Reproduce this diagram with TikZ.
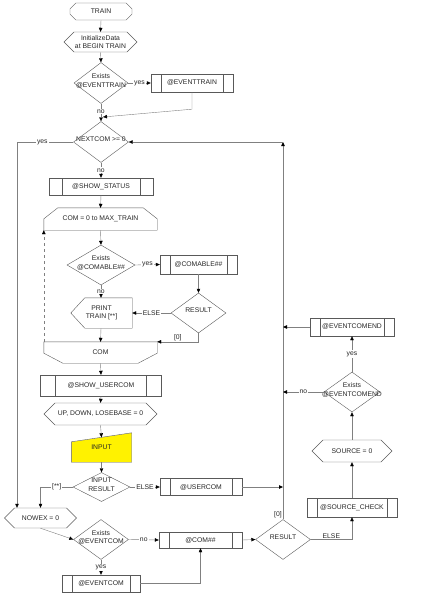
\documentclass[tikz,border=0pt]{standalone}
\usepackage{fontspec}
\setmainfont{Liberation Sans}
\usetikzlibrary{shapes.geometric,shapes.misc,shapes.symbols,arrows.meta}

\definecolor{bordo}{gray}{0.35}
\definecolor{linea}{gray}{0.5}
\definecolor{testo}{gray}{0.15}

% testo centrato che non allarga il rombo
\newcommand{\ctext}[1]{\makebox[0pt]{\smash{\begin{tabular}{@{}c@{}}#1\end{tabular}}}}

\tikzset{
  scritta/.style={text=testo, font=\fontsize{6.8}{8.5}\selectfont, inner sep=0pt, align=center},
  base/.style={scritta, draw=bordo},
  terminale/.style={base, chamfered rectangle, chamfered rectangle xsep=4pt},
  preparazione/.style={base, signal, signal to=east and west, signal pointer angle=90},
  decisione/.style={base, diamond},
  processo/.style={base, rectangle, path picture={
      \draw[bordo] ([xshift=#1]path picture bounding box.north west) -- ([xshift=#1]path picture bounding box.south west)
                   ([xshift=-#1]path picture bounding box.north east) -- ([xshift=-#1]path picture bounding box.south east);}},
  processo/.default=10pt,
  ciclo/.style={scritta, rectangle},
  inserimento/.style={scritta, rectangle, path picture={
      \fill[yellow] ([yshift=-9pt]path picture bounding box.north west) -- (path picture bounding box.north east)
                    -- (path picture bounding box.south east) -- (path picture bounding box.south west) -- cycle;}},
  freccia/.style={draw=linea, -{Triangle[black, length=4pt, width=3.5pt]}},
  etichetta/.style={scritta, fill=white, inner sep=1pt}
}

\begin{document}
\begin{tikzpicture}[x=1pt, y=-1pt]
    \useasboundingbox (0,0) rectangle (424,600);

    % Inizio
    \node[terminale, minimum width=62, minimum height=17] (train) at (101,11.5) {TRAIN};
    \node[preparazione, minimum width=73, minimum height=20] (init) at (100.5,42) {InitializeData\\at BEGIN TRAIN};
    \node[decisione, minimum width=54, minimum height=41] (exTrain) at (101,83) {\ctext{Exists\\@EVENTTRAIN}};
    \node[processo, minimum width=82, minimum height=18] (evTrain) at (192,83) {@EVENTTRAIN};
    \coordinate (mergeTrain) at (103,117);

    % Ciclo sui comandi
    \node[decisione, minimum width=55, minimum height=41] (nextCom) at (101,142) {\ctext{NEXTCOM >= 0}};
    \node[processo=13pt, minimum width=104, minimum height=17] (showStatus) at (101,186.5) {@SHOW\_STATUS};
    \node[ciclo, minimum width=113, minimum height=22] (comLoop) at (100.5,219) {COM = 0 to MAX\_TRAIN};
    \node[decisione, minimum width=68, minimum height=40] (exComable) at (101,265) {\ctext{Exists\\@COMABLE\#\#}};
    \node[processo, minimum width=77, minimum height=19] (comable) at (198.5,264.5) {@COMABLE\#\#};
    \node[decisione, minimum width=55, minimum height=40] (result1) at (198.5,313) {\ctext{RESULT}};
    \node[ciclo, minimum width=61, minimum height=30] (print) at (101.5,313) {PRINT\\TRAIN [**]};
    \node[ciclo, minimum width=113, minimum height=21] (comEnd) at (100.5,352.5) {COM};

    % Contorni dei cicli e della stampa
    \draw[bordo] ([yshift=-11pt]comLoop.north west) -- ([xshift=14pt]comLoop.north west) -- ([xshift=-14pt]comLoop.north east)
        -- ([yshift=-11pt]comLoop.north east) -- (comLoop.south east) -- (comLoop.south west) -- cycle;
    \draw[bordo] (comEnd.north west) -- (comEnd.north east) -- ([yshift=10pt]comEnd.south east) -- ([xshift=-19pt]comEnd.south east)
        -- ([xshift=19pt]comEnd.south west) -- ([yshift=10pt]comEnd.south west) -- cycle;
    \draw[bordo] (print.west) -- ([xshift=14pt]print.north west) -- (print.north east) -- (print.south east)
        -- ([xshift=14pt]print.south west) -- cycle;

    % Input utente
    \node[processo=15pt, minimum width=121, minimum height=21] (showUser) at (101,385.5) {@SHOW\_USERCOM};
    \node[preparazione, minimum width=113, minimum height=22] (upDown) at (100.5,414) {UP, DOWN, LOSEBASE = 0};
    \node[inserimento, minimum width=60, minimum height=29] (input) at (101.5,447.5) {INPUT};
    \draw[bordo] ([yshift=-9pt]input.north west) -- (input.north east) -- (input.south east) -- (input.south west) -- cycle;
    \node[decisione, minimum width=57, minimum height=29] (inResult) at (101.5,487) {\ctext{INPUT\\RESULT}};
    \node[processo, minimum width=82, minimum height=17] (userCom) at (201,487) {@USERCOM};

    % Eventi
    \node[preparazione, minimum width=72, minimum height=20] (nowex) at (40.5,518) {NOWEX = 0};
    \node[decisione, minimum width=55, minimum height=40] (exEvCom) at (101,539.5) {\ctext{Exists\\@EVENTCOM}};
    \node[processo, minimum width=83, minimum height=16] (comNN) at (200.5,540) {@COM\#\#};
    \node[processo, minimum width=78, minimum height=17] (evCom) at (101,583.5) {@EVENTCOM};
    \node[decisione, minimum width=55, minimum height=40] (result2) at (283,539.5) {\ctext{RESULT}};
    \node[processo, minimum width=90, minimum height=19] (srcCheck) at (352,507.5) {@SOURCE\_CHECK};
    \node[preparazione, minimum width=80, minimum height=22] (source) at (352,451) {SOURCE = 0};
    \node[decisione, minimum width=56, minimum height=40] (exEvEnd) at (352,392) {\ctext{Exists\\@EVENTCOMEND}};
    \node[processo, minimum width=84, minimum height=18] (evEnd) at (352,327) {@EVENTCOMEND};

    % Punti di ritorno
    \coordinate (topRight) at (283,142);
    \coordinate (joinEnd) at (283,327);
    \coordinate (joinNo) at (283,392);
    \coordinate (joinUser) at (283,487);

    % Frecce
    \draw[freccia] (train.south) -- (init.north);
    \draw[freccia] (init.south) -- (exTrain.north);
    \draw[freccia] (exTrain.east) -- node[etichetta] (yesTrain) {yes} (evTrain.west);
    \draw[freccia] (exTrain.south) -- node[etichetta, pos=0.45] (noTrain) {no} (nextCom.north);
    \draw[freccia] (evTrain.south) -- ++(0,17) -- (mergeTrain);
    \draw[freccia] (nextCom.west) -- node[etichetta, pos=0.55] (yesNext) {yes} (17,142) -- (17,0 |- nowex.north);
    \draw[freccia] (nextCom.south) -- node[etichetta] (noNext) {no} (showStatus.north);
    \draw[freccia] (showStatus.south) -- (comLoop.north);
    \draw[freccia] (comLoop.south) -- (exComable.north);
    \draw[freccia] (exComable.east) -- node[etichetta] (yesComable) {yes} (comable.west);
    \draw[freccia] (comable.south) -- (result1.north);
    \draw[freccia] (result1.west) -- node[etichetta] (elseResult1) {ELSE} (print.east);
    \draw[freccia] (exComable.south) -- node[etichetta] (noComable) {no} (exComable.south |- print.north);
    \draw[freccia] (result1.south) |- node[scritta, pos=0.75, above, inner sep=1pt] (zeroResult1) {[0]} (comEnd.north east);
    \draw[freccia] (exComable.south |- print.south) -- (comEnd.north);
    \draw[freccia, dashed] (comEnd.north west) -- (comLoop.south west);
    \draw[freccia] (comEnd.south) -- (showUser.north);
    \draw[freccia] (showUser.south) -- (upDown.north);
    \draw[freccia] (upDown.south) -- ([yshift=-4.5pt]input.north);
    \draw[freccia] (input.south) -- (inResult.north);
    \draw[freccia] (inResult.east) -- node[etichetta] (elseInput) {ELSE} (userCom.west);
    \draw[freccia] (userCom.east) -- (joinUser);
    \draw[freccia] (inResult.west) -| node[etichetta, pos=0.25] (starInput) {[**]} (nowex.north);
    \draw[freccia] (nowex.south) -- (exEvCom.west);
    \draw[freccia] (exEvCom.east) -- node[etichetta] (noEvCom) {no} (comNN.west);
    \draw[freccia] (exEvCom.south) -- node[etichetta] (yesEvCom) {yes} (evCom.north);
    \draw[freccia] (evCom.east) -| (comNN.south);
    \draw[freccia] (comNN.east) -- (result2.west);
    \draw[freccia] (result2.north) -- node[scritta, pos=0, above left, inner sep=1pt] (zeroResult2) {[0]} (topRight);
    \draw[freccia] (topRight) -- (nextCom.east);
    \draw[freccia] (result2.east) -| node[scritta, pos=0.25, above, inner sep=1pt] (elseResult2) {ELSE} (srcCheck.south);
    \draw[freccia] (srcCheck.north) -- (source.south);
    \draw[freccia] (source.north) -- (exEvEnd.south);
    \draw[freccia] (exEvEnd.north) -- node[etichetta] (yesEvEnd) {yes} (evEnd.south);
    \draw[freccia] (exEvEnd.west) -- node[etichetta] (noEvEnd) {no} (joinNo);
    \draw[freccia] (evEnd.west) -- (joinEnd);
\end{tikzpicture}
\end{document}
